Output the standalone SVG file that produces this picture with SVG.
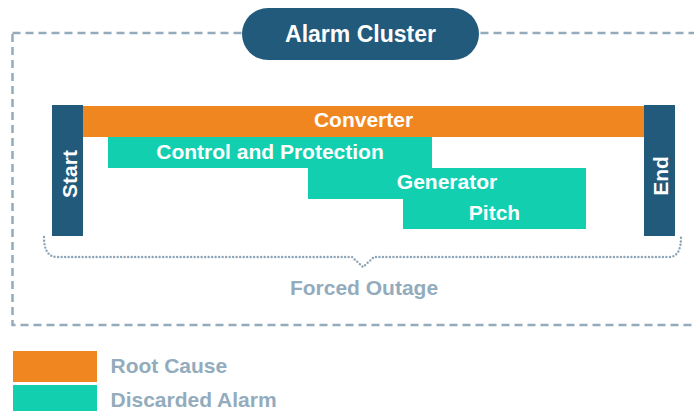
<svg xmlns="http://www.w3.org/2000/svg" width="694" height="411" viewBox="0 0 694 411">
<style>
text{font-family:"Liberation Sans",Arial,sans-serif;font-weight:bold}
.w{fill:#ffffff;font-size:21px;text-anchor:middle}
.g{fill:#93acbd;font-size:21px}
.dark{fill:#225a7c}
.root{fill:#f08620}
.disc{fill:#12cfb0}
</style>
<rect width="694" height="411" fill="#ffffff"/>
<g id="frame">
<rect x="12.5" y="33" width="720" height="292" fill="none" stroke="#93acbd" stroke-width="2.5" stroke-dasharray="8 5"/>
</g>
<g id="alarm-cluster">
<rect x="242" y="8" width="237" height="52" rx="26" class="dark"/>
<text x="360.5" y="42" class="w" style="font-size:23px">Alarm Cluster</text>
</g>
<g id="start">
<rect x="52" y="105" width="31" height="131" class="dark"/>
<text class="w" transform="translate(77,174) rotate(-90)">Start</text>
</g>
<g id="end">
<rect x="644" y="105" width="31" height="131" class="dark"/>
<text class="w" transform="translate(668,176) rotate(-90)">End</text>
</g>
<g id="converter">
<rect x="83" y="106" width="561" height="31" class="root"/>
<text x="363.5" y="127" class="w">Converter</text>
</g>
<g id="control-protection">
<rect x="108" y="137" width="324" height="31" class="disc"/>
<text x="270" y="159" class="w">Control and Protection</text>
</g>
<g id="generator">
<rect x="308" y="168" width="278" height="31" class="disc"/>
<text x="447" y="189" class="w">Generator</text>
</g>
<g id="pitch">
<rect x="403" y="199" width="183" height="30" class="disc"/>
<text x="494.5" y="220" class="w">Pitch</text>
</g>
<g id="connectors">
<path d="M44,237 Q44,257 57,257 H352 L363,267 L374,257 H669 Q681,257 681,237" fill="none" stroke="#8aa3b6" stroke-width="2.4" stroke-linecap="round" stroke-dasharray="0 3.5"/>
</g>
<g id="forced-outage">
<text x="364" y="295" class="g" text-anchor="middle">Forced Outage</text>
</g>
<g id="legend">
<rect x="13" y="351" width="84" height="31" class="root"/>
<text x="110.5" y="373" class="g">Root Cause</text>
<rect x="13" y="385" width="84" height="31" class="disc"/>
<text x="110.5" y="407" class="g">Discarded Alarm</text>
</g>
</svg>
